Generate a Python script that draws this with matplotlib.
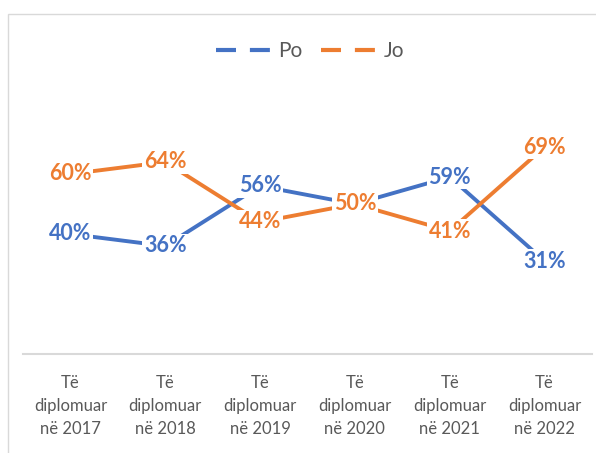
import matplotlib
matplotlib.use("Agg")
import matplotlib.pyplot as plt
from matplotlib.lines import Line2D
from matplotlib.patches import Rectangle

categories = ["Të\ndiplomuar\nnë 2017", "Të\ndiplomuar\nnë 2018", "Të\ndiplomuar\nnë 2019",
              "Të\ndiplomuar\nnë 2020", "Të\ndiplomuar\nnë 2021", "Të\ndiplomuar\nnë 2022"]
po = [40, 36, 56, 50, 59, 31]
jo = [60, 64, 44, 50, 41, 69]
series_names = ["Po", "Jo"]

BLUE = "#4472C4"
ORANGE = "#ED7D31"
GREY = "#595959"

plt.rcParams['font.family'] = ['Lato', 'DejaVu Sans']
plt.rcParams['lines.scale_dashes'] = False

W, H = 596, 453
fig = plt.figure(figsize=(W / 100, H / 100), dpi=100)

# chart border
fig.patches.append(Rectangle((8 / W, -0.1), 1.2, 1 - 14 / H + 0.1, transform=fig.transFigure,
                             fill=False, edgecolor="#D9D9D9", linewidth=1.0))

ax = fig.add_axes([23 / W, 99 / H, 569 / W, 240 / H])
x = list(range(len(categories)))
ax.plot(x, po, color=BLUE, lw=2.8, solid_capstyle="butt", zorder=2)
ax.plot(x, jo, color=ORANGE, lw=2.8, solid_capstyle="butt", zorder=2)

for xi, v in zip(x, po):
    ax.text(xi, v, f"{v}%", color=BLUE, fontsize=15.5, fontweight="bold", ha="center",
            va="center", zorder=3,
            bbox=dict(boxstyle="square,pad=0.08", facecolor="white", edgecolor="none"))
for xi, v in zip(x, jo):
    ax.text(xi, v, f"{v}%", color=ORANGE, fontsize=15.5, fontweight="bold", ha="center",
            va="center", zorder=4,
            bbox=dict(boxstyle="square,pad=0.08", facecolor="white", edgecolor="none"))

ax.set_xlim(-0.5, len(categories) - 0.5)
ax.set_ylim(0, 80)
ax.set_yticks([])
ax.set_xticks(x)
ax.set_xticklabels(categories, fontsize=12, color=GREY, linespacing=1.55)
ax.tick_params(axis="x", length=0, pad=15)
for s in ["top", "left", "right"]:
    ax.spines[s].set_visible(False)
ax.spines["bottom"].set_color("#D9D9D9")
ax.spines["bottom"].set_linewidth(1.5)

handles = [Line2D([], [], color=BLUE, lw=3, dashes=(14.4, 10)),
           Line2D([], [], color=ORANGE, lw=3, dashes=(14.4, 10))]
leg = fig.legend(handles, series_names, loc="center", bbox_to_anchor=(310 / W, 1 - 51 / H),
                 ncol=2, frameon=False, fontsize=15, handlelength=2.7, handletextpad=0.3,
                 columnspacing=0.9, labelcolor=GREY)

fig.savefig("out.png", dpi=100)
